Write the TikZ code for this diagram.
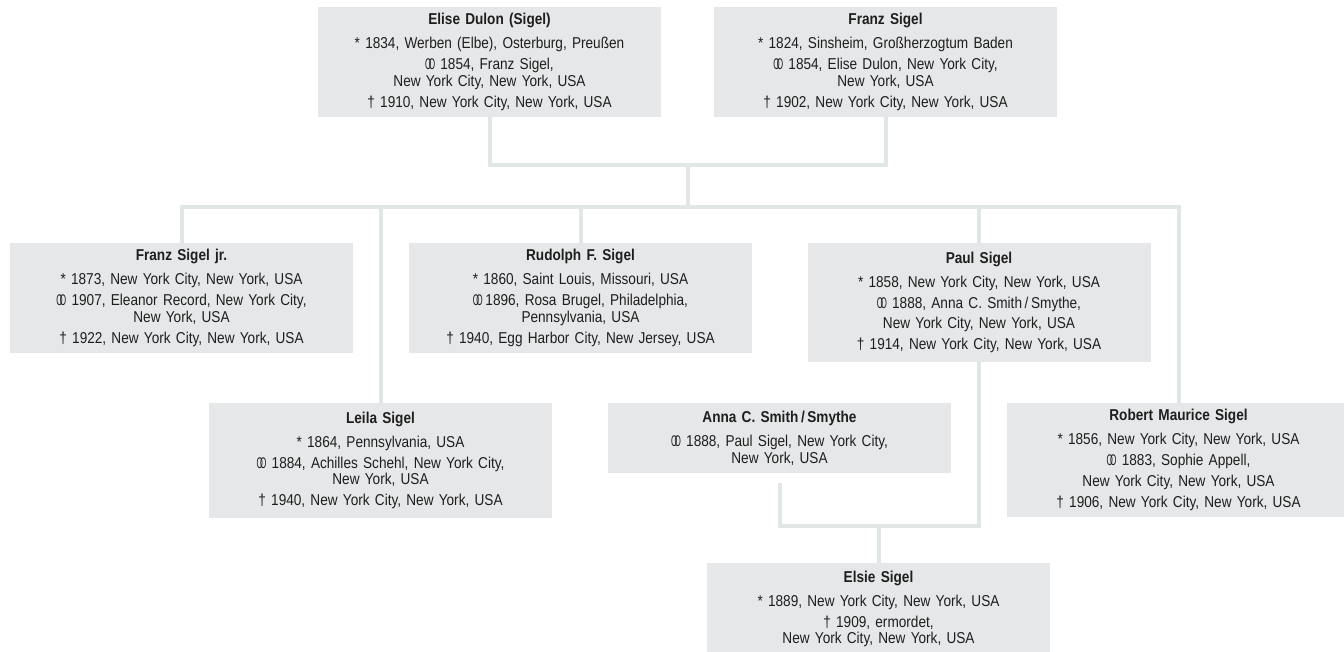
\documentclass[tikz,border=0pt]{standalone}
\usepackage{fontspec}
\setmainfont{Liberation Sans}[FakeStretch=0.865]
\definecolor{boxfill}{HTML}{E6E7E8}
\definecolor{linec}{HTML}{E1E7E7}
\definecolor{txt}{HTML}{1E1E1E}
\newcommand\marr{\mbox{\scalebox{0.6}[0.98]{O}\kern-2.1pt\scalebox{0.6}[0.98]{O}}}
\tikzset{
  person/.style={fill=boxfill, draw=none, inner sep=0pt,
    minimum width=257.25pt, text width=257.25pt, align=center,
    font=\fontsize{11.8}{12.6}\selectfont, text=txt, minimum height=#1*0.75pt},
  conn/.style={draw=linec, line width=3pt},
}
\begin{document}
\begin{tikzpicture}[x=0.75pt,y=-0.75pt]
\useasboundingbox (0,0) rectangle (1344,651);
\clip (0,0) rectangle (1344,651);
\node[person=110] (elise) at (489.5,62) {\textbf{Elise Dulon (Sigel)}\\[5.4pt]
{*} 1834, Werben (Elbe), Osterburg, Preußen\\[3pt]
\marr{} 1854, Franz Sigel,\\
New York City, New York, USA\\[3pt]
† 1910, New York City, New York, USA};
\node[person=110] (franz) at (885.5,62) {\textbf{Franz Sigel}\\[5.4pt]
{*} 1824, Sinsheim, Großherzogtum Baden\\[3pt]
\marr{} 1854, Elise Dulon, New York City,\\
New York, USA\\[3pt]
† 1902, New York City, New York, USA};
\node[person=110] (fjr) at (181.5,298) {\textbf{Franz Sigel jr.}\\[5.4pt]
{*} 1873, New York City, New York, USA\\[3pt]
\marr{} 1907, Eleanor Record, New York City,\\
New York, USA\\[3pt]
† 1922, New York City, New York, USA};
\node[person=110] (rudolph) at (580.5,298) {\textbf{Rudolph F. Sigel}\\[5.4pt]
{*} 1860, Saint Louis, Missouri, USA\\[3pt]
\marr\,1896, Rosa Brugel, Philadelphia,\\
Pennsylvania, USA\\[3pt]
† 1940, Egg Harbor City, New Jersey, USA};
\node[person=119] (paul) at (979,302.5) {\textbf{Paul Sigel}\\[5.4pt]
{*} 1858, New York City, New York, USA\\[3pt]
\marr{} 1888, Anna C. Smith\,/\,Smythe,\\[3pt]
New York City, New York, USA\\[3pt]
† 1914, New York City, New York, USA};
\node[person=115] (leila) at (380.5,460.5) {\textbf{Leila Sigel}\\[5.4pt]
{*} 1864, Pennsylvania, USA\\[3pt]
\marr{} 1884, Achilles Schehl, New York City,\\
New York, USA\\[3pt]
† 1940, New York City, New York, USA};
\node[person=70] (anna) at (779.5,438) {\textbf{Anna C. Smith\,/\,Smythe}\\[5.4pt]
\marr{} 1888, Paul Sigel, New York City,\\
New York, USA};
\node[person=114] (robert) at (1178.5,460) {\textbf{Robert Maurice Sigel}\\[5.4pt]
{*} 1856, New York City, New York, USA\\[3pt]
\marr{} 1883, Sophie Appell,\\[3pt]
New York City, New York, USA\\[3pt]
† 1906, New York City, New York, USA};
\node[person=92] (elsie) at (878.5,609) {\textbf{Elsie Sigel}\\[5.4pt]
{*} 1889, New York City, New York, USA\\[3pt]
† 1909, ermordet,\\
New York City, New York, USA};
% connectors
\coordinate (m1) at (688,165);
\coordinate (bus) at (688,207);
\coordinate (e1) at (878.5,526);
\draw[conn] (elise.south) |- (m1) -| (franz.south);
\draw[conn] (m1) -- (bus);
\draw[conn] (fjr.north) |- (bus) -| (robert.north);
\draw[conn] (leila.north) -- (leila.north |- bus);
\draw[conn] (rudolph.north) -- (rudolph.north |- bus);
\draw[conn] (paul.north) -- (paul.north |- bus);
\draw[conn] ([yshift=-7.5pt]anna.south) |- (e1) -| (paul.south);
\draw[conn] (e1) -- (elsie.north);
\end{tikzpicture}
\end{document}
